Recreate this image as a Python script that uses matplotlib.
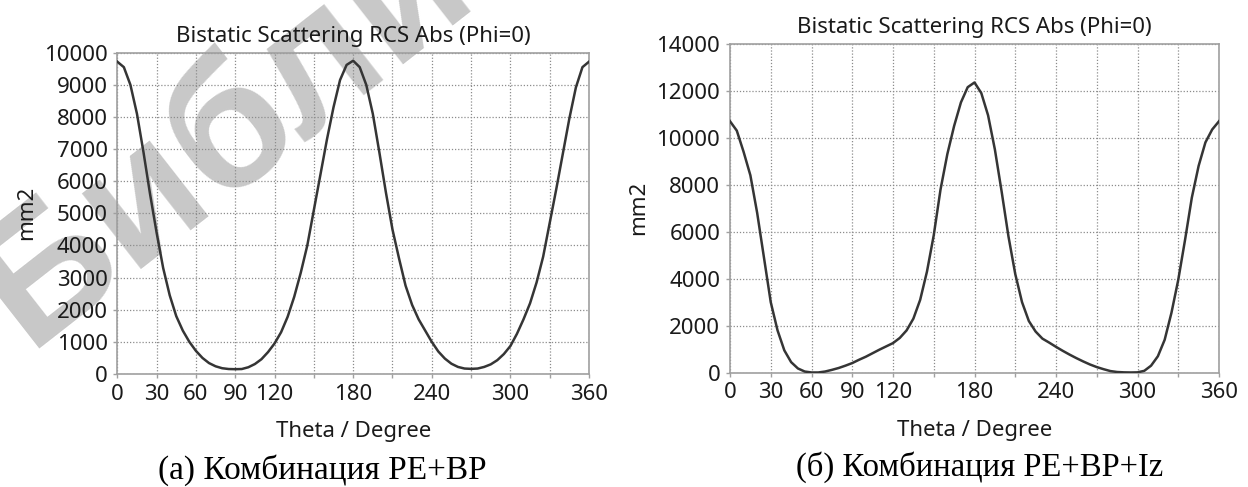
import matplotlib
matplotlib.use("Agg")
import matplotlib.pyplot as plt

plt.rcParams["font.family"] = ["Noto Sans", "DejaVu Sans"]

# theta, degrees, 5 degree steps
theta = list(range(0, 361, 5))

# (a) PE+BP, mm2
rcs_a = [
    9720, 9550, 9000, 8100, 6900, 5600, 4400, 3300, 2450, 1800,
    1350, 1000, 720, 500, 340, 240, 180, 155, 150, 155,
    210, 310, 460, 680, 950, 1300, 1780, 2400, 3150, 4000,
    5100, 6200, 7300, 8300, 9150, 9620, 9750, 9550, 9000, 8100,
    6900, 5650, 4500, 3600, 2750, 2150, 1700, 1350, 1000, 700,
    480, 320, 220, 170, 160, 170, 220, 300, 430, 620,
    870, 1250, 1700, 2200, 2850, 3650, 4700, 5750, 6850, 7950,
    8920, 9550, 9720,
]

# (b) PE+BP+Iz, mm2
rcs_b = [
    10700, 10300, 9400, 8400, 6800, 4900, 3000, 1800, 950, 450,
    180, 50, 10, 10, 50, 120, 200, 300, 410, 550,
    680, 830, 980, 1120, 1260, 1480, 1800, 2300, 3100, 4300,
    5850, 7800, 9300, 10500, 11500, 12150, 12350, 11900, 10950, 9500,
    7700, 5800, 4200, 3000, 2200, 1750, 1450, 1280, 1100, 930,
    770, 620, 480, 350, 240, 150, 70, 30, 15, 10,
    15, 80, 300, 700, 1400, 2550, 3950, 5650, 7450, 8800,
    9800, 10350, 10700,
]

x_ticks = list(range(0, 361, 30))
x_labels = ["0", "30", "60", "90", "120", "", "180", "", "240", "", "300", "", "360"]
y_ticks_a = list(range(0, 10001, 1000))
y_ticks_b = list(range(0, 14001, 2000))

title = "Bistatic Scattering RCS Abs (Phi=0)"
captions = ["(a) Комбинация PE+BP", "(б) Комбинация PE+BP+Iz"]

W, H = 1248, 487
fig = plt.figure(figsize=(W / 100, H / 100), dpi=100)


def px_axes(x0, x1, y0, y1):
    return fig.add_axes([x0 / W, 1 - y1 / H, (x1 - x0) / W, (y1 - y0) / H])


def draw_panel(ax, values, yticks, ymax):
    ax.set_facecolor("none")
    ax.plot(theta, values, color="#353535", lw=1.8, zorder=3)
    ax.set_xlim(0, 360)
    ax.set_ylim(0, ymax)
    ax.set_xticks(x_ticks)
    ax.set_xticklabels(x_labels)
    ax.set_yticks(yticks)
    ax.grid(True, color="#8c8c8c", linestyle=(0, (1, 1.5)), linewidth=0.9)
    for s in ax.spines.values():
        s.set_color("#a0a0a0")
        s.set_linewidth(1.2)
    ax.tick_params(direction="out", length=3, width=1, color="#a0a0a0",
                   labelsize=16, labelcolor="#1a1a1a", pad=4)
    ax.set_title(title, fontsize=16, color="#1a1a1a", pad=8)
    ax.set_xlabel("Theta / Degree", fontsize=16, color="#1a1a1a", labelpad=12)
    ax.set_ylabel("mm2", fontsize=16, color="#1a1a1a", labelpad=5)


ax1 = px_axes(117.3, 589, 52.7, 374)
draw_panel(ax1, rcs_a, y_ticks_a, 10000)

ax2 = px_axes(730, 1219, 43.7, 372.7)
draw_panel(ax2, rcs_b, y_ticks_b, 14000)

fig.text(322 / W, 1 - 470 / H, captions[0], family="Liberation Serif",
         fontsize=24, ha="center", va="center", color="black")
fig.text(980 / W, 1 - 467 / H, captions[1], family="Liberation Serif",
         fontsize=23.5, ha="center", va="center", color="black")

# library watermark
fig.text(28 / W, 1 - 348 / H, "Библи", fontsize=130, rotation=38,
         color="#c8c8c8", ha="left", va="baseline", zorder=-1,
         rotation_mode="anchor", family="Liberation Sans", weight="bold")

fig.savefig("out.png", dpi=100)
